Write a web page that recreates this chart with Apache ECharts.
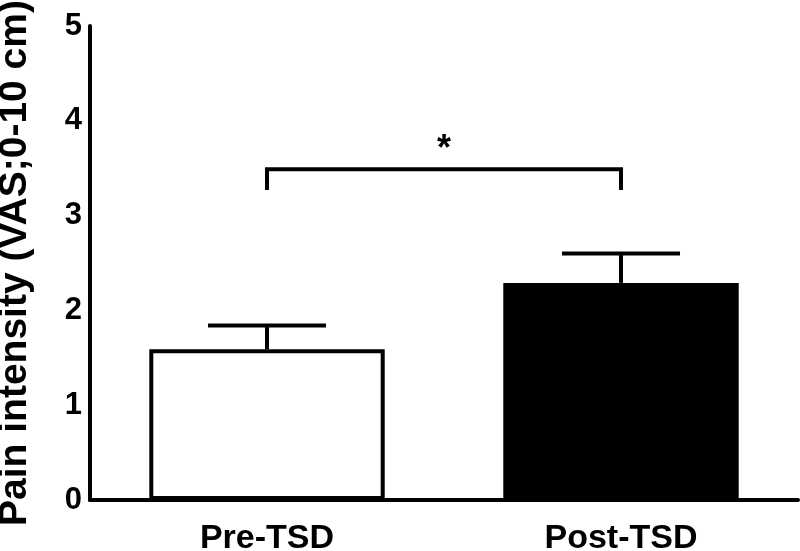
<!DOCTYPE html>
<html>
<head>
<meta charset="utf-8">
<script src="https://cdn.jsdelivr.net/npm/echarts@6/dist/echarts.min.js"></script>
<style>
html,body{margin:0;padding:0;background:#fff;}
#chart{width:800px;height:551px;}
</style>
</head>
<body>
<div id="chart"></div>
<script>
const categories = ['Pre-TSD', 'Post-TSD'];
const means = [1.59, 2.29];
const sems = [0.25, 0.31];
const barColors = ['#ffffff', '#000000'];
const yTicks = [0, 1, 2, 3, 4, 5];
const bracketTop = 3.49;
const bracketDrop = 3.27;
const sigLabel = '*';
const sigLabelY = 3.69;
const yAxisName = 'Pain intensity (VAS;0-10 cm)';

const FONT = "'Liberation Sans', Arial, Helvetica, sans-serif";

const chart = echarts.init(document.getElementById('chart'));
chart.setOption({
  animation: false,
  backgroundColor: '#fff',
  grid: { left: 90, right: 2, top: 26, bottom: 51, containLabel: false, outerBoundsMode: 'none' },
  xAxis: {
    type: 'category',
    data: categories,
    axisLine: { show: true, lineStyle: { color: '#000', width: 4 } },
    axisTick: { show: false },
    axisLabel: { color: '#000', fontFamily: FONT, fontWeight: 'bold', fontSize: 34, margin: 22 },
    splitLine: { show: false }
  },
  yAxis: {
    type: 'value',
    min: yTicks[0],
    max: yTicks[yTicks.length - 1],
    interval: 1,
    name: yAxisName,
    nameLocation: 'middle',
    nameRotate: 90,
    nameGap: 55,
    nameTextStyle: { color: '#000', fontFamily: FONT, fontWeight: 'bold', fontSize: 39 },
    axisLine: { show: true, lineStyle: { color: '#000', width: 4 } },
    axisTick: { show: false },
    axisLabel: { color: '#000', fontFamily: FONT, fontWeight: 'bold', fontSize: 31, margin: 8 },
    splitLine: { show: false }
  },
  series: [
    {
      type: 'bar',
      barWidth: '66.5%',
      data: means.map((v, i) => ({
        value: v,
        itemStyle: { color: barColors[i], borderColor: '#000', borderWidth: 4 }
      })),
      z: 2
    },
    {
      type: 'custom',
      z: 3,
      data: categories.map((c, i) => [i, means[i], sems[i]]),
      encode: { x: 0, y: 1 },
      renderItem: function (params, api) {
        const x = api.value(0), m = api.value(1), s = api.value(2);
        const p0 = api.coord([x, m]);
        const p1 = api.coord([x, m + s]);
        const half = api.size([1, 0])[0] * 0.1667;
        return {
          type: 'group',
          children: [
            { type: 'line', shape: { x1: p0[0], y1: p0[1], x2: p1[0], y2: p1[1] }, style: { stroke: '#000', lineWidth: 4 } },
            { type: 'line', shape: { x1: p1[0] - half, y1: p1[1], x2: p1[0] + half, y2: p1[1] }, style: { stroke: '#000', lineWidth: 4 } }
          ]
        };
      }
    },
    {
      type: 'custom',
      z: 3,
      data: [[0, 1, bracketTop, bracketDrop, sigLabelY]],
      encode: { x: 0, y: 2 },
      renderItem: function (params, api) {
        const a = api.value(0), b = api.value(1), top = api.value(2), drop = api.value(3), ly = api.value(4);
        const pa0 = api.coord([a, drop]), pa1 = api.coord([a, top]);
        const pb1 = api.coord([b, top]), pb0 = api.coord([b, drop]);
        const lbl = api.coord([a, ly]);
        const midX = (pa1[0] + pb1[0]) / 2;
        return {
          type: 'group',
          children: [
            { type: 'polyline', shape: { points: [pa0, pa1, pb1, pb0] }, style: { stroke: '#000', lineWidth: 4, fill: null } },
            { type: 'text', x: midX, y: lbl[1], style: { text: sigLabel, fill: '#000', font: 'bold 36px ' + FONT, align: 'center', verticalAlign: 'middle' } }
          ]
        };
      }
    }
  ]
});
</script>
</body>
</html>
